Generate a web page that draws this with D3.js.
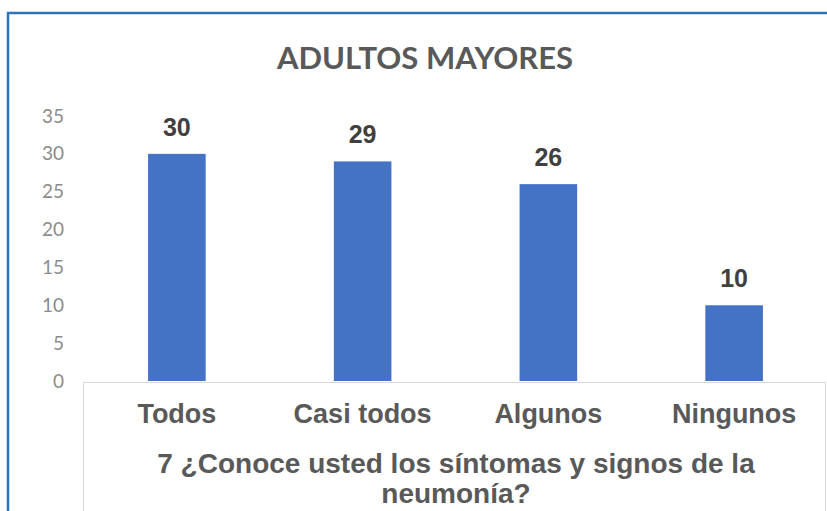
<!DOCTYPE html>
<html>
<head>
<meta charset="utf-8">
<script src="https://cdn.jsdelivr.net/npm/d3@7"></script>
<style>
  body { margin: 0; background: #fff; }
  svg { display: block; }
</style>
</head>
<body>
<svg id="canvas" width="827" height="511"></svg>
<script>
// data
let categories = ['Todos', 'Casi todos', 'Algunos', 'Ningunos']
let values = [30, 29, 26, 10]
let yTicks = [0, 5, 10, 15, 20, 25, 30, 35]
let chartTitle = 'ADULTOS MAYORES'
let axisTitle = ['7 ¿Conoce usted los síntomas y signos de la', 'neumonía?']

let canvas = d3.select('#canvas')

// outer frame (only top and left edges are in view)
canvas.append('rect')
    .attr('x', 8).attr('y', 13)
    .attr('width', 900).attr('height', 600)
    .attr('fill', 'none')
    .attr('stroke', '#2e75b6')
    .attr('stroke-width', 2.5)

let xScale = d3.scaleBand()
    .domain(categories)
    .range([84, 827])
    .paddingInner(0.69)
    .paddingOuter(0.345)

let yScale = d3.scaleLinear()
    .domain([0, 35])
    .range([381, 116])

// box under the plot that holds the category labels
canvas.append('rect')
    .attr('x', 83.5).attr('y', 382.5)
    .attr('width', 742).attr('height', 200)
    .attr('fill', 'none')
    .attr('stroke', '#d9d9d9')
    .attr('stroke-width', 1)

// title
canvas.append('text')
    .attr('x', 425)
    .attr('y', 69)
    .attr('text-anchor', 'middle')
    .style('font-family', 'Lato, sans-serif')
    .style('font-weight', 'bold')
    .style('font-size', '31px')
    .style('fill', '#595959')
    .text(chartTitle)

// y axis, labels only
let yAxis = d3.axisLeft(yScale)
    .tickValues(yTicks)
    .tickSize(0)
    .tickPadding(0)

canvas.append('g')
    .attr('transform', 'translate(64,0)')
    .call(yAxis)
    .call(g => g.select('.domain').remove())
    .selectAll('text')
        .style('font-family', 'Lato, sans-serif')
        .style('font-size', '19px')
        .style('fill', '#8c8c8c')

// bars
canvas.selectAll('.bar')
    .data(values)
    .enter()
    .append('rect')
    .attr('class', 'bar')
    .attr('x', (d, i) => xScale(categories[i]))
    .attr('y', (d) => yScale(d))
    .attr('width', xScale.bandwidth())
    .attr('height', (d) => yScale(0) - yScale(d))
    .attr('fill', '#4472c4')

// value labels
canvas.selectAll('.value')
    .data(values)
    .enter()
    .append('text')
    .attr('class', 'value')
    .attr('x', (d, i) => xScale(categories[i]) + xScale.bandwidth() / 2)
    .attr('y', (d) => yScale(d) - 18)
    .attr('text-anchor', 'middle')
    .style('font-family', '"Liberation Sans", Arial, sans-serif')
    .style('font-weight', 'bold')
    .style('font-size', '25px')
    .style('fill', '#404040')
    .text((d) => d)

// category labels
let xAxis = d3.axisBottom(xScale)
    .tickSize(0)
    .tickPadding(0)

canvas.append('g')
    .attr('transform', 'translate(0,404)')
    .call(xAxis)
    .call(g => g.select('.domain').remove())
    .selectAll('text')
        .attr('dy', '0.71em')
        .style('font-family', '"Liberation Sans", Arial, sans-serif')
        .style('font-weight', 'bold')
        .style('font-size', '27px')
        .style('fill', '#595959')

// axis title, two lines
canvas.selectAll('.axis-title')
    .data(axisTitle)
    .enter()
    .append('text')
    .attr('class', 'axis-title')
    .attr('x', 456)
    .attr('y', (d, i) => 473 + i * 30)
    .attr('text-anchor', 'middle')
    .style('font-family', '"Liberation Sans", Arial, sans-serif')
    .style('font-weight', 'bold')
    .style('font-size', '28px')
    .style('fill', '#595959')
    .text((d) => d)
</script>
</body>
</html>
